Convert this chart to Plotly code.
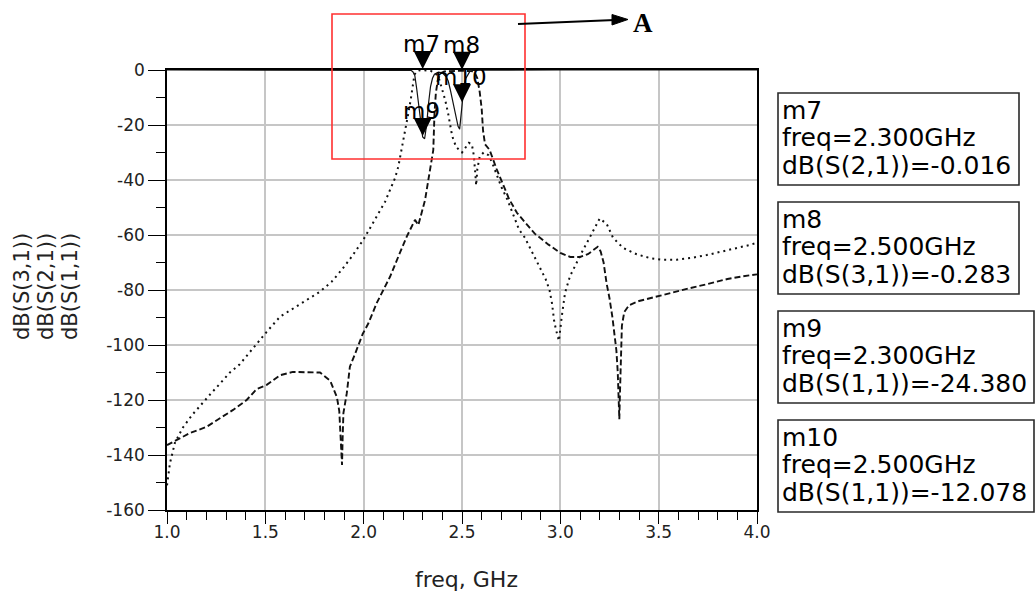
import plotly.graph_objects as go

# ---------------- data ----------------
# dB(S(2,1)) (dotted)
s21_freq = [1.000, 1.004, 1.015, 1.040, 1.081, 1.127, 1.168, 1.219, 1.270, 1.320, 1.370,
            1.430, 1.507, 1.575, 1.642, 1.710, 1.778, 1.837, 1.888, 1.939, 1.998,
            2.041, 2.074, 2.109, 2.134, 2.159, 2.176, 2.188, 2.202, 2.215, 2.227,
            2.239, 2.249, 2.258, 2.268, 2.280, 2.300, 2.320, 2.340, 2.355, 2.370,
            2.385, 2.400, 2.415, 2.430, 2.450, 2.470, 2.500, 2.520, 2.535, 2.550,
            2.560, 2.568, 2.572, 2.578, 2.590, 2.610, 2.635, 2.655, 2.675, 2.700,
            2.730, 2.760, 2.790, 2.820, 2.850, 2.890, 2.925, 2.945, 2.958, 2.968,
            2.978, 2.993, 3.007, 3.024, 3.049, 3.083, 3.115, 3.151, 3.176, 3.200,
            3.236, 3.268, 3.319, 3.388, 3.456, 3.522, 3.592, 3.660, 3.744, 3.827,
            3.897, 3.964, 4.000]
s21_db = [-151.0, -149.0, -143.0, -135.6, -130.0, -125.5, -122.0, -118.0, -114.0, -110.0, -107.0,
          -101.8, -95.2, -89.7, -86.7, -83.6, -80.6, -77.0, -72.7, -67.9, -61.8,
          -56.4, -52.1, -47.9, -43.6, -39.4, -35.2, -30.9, -25.5, -20.6, -15.8,
          -10.9, -6.1, -1.8, -0.5, -0.15, -0.016, -0.08, -0.3, -0.8, -1.6,
          -3.6, -7.0, -11.0, -16.0, -24.0, -28.0, -30.0, -28.0, -26.5, -27.0,
          -31.0, -38.0, -42.0, -36.0, -31.5, -30.0, -31.0, -34.0, -38.0, -42.5,
          -47.0, -52.7, -58.0, -61.0, -65.5, -71.0, -76.0, -80.0, -85.0, -91.0,
          -94.5, -98.5, -89.8, -81.0, -75.0, -70.0, -65.5, -60.7, -57.0, -54.0,
          -56.0, -61.0, -64.7, -67.0, -68.4, -69.0, -69.0, -68.4, -67.3, -66.0,
          -64.7, -63.6, -62.8]

# dB(S(3,1)) (dashed)
s31_freq = [1.000, 1.049, 1.117, 1.200, 1.270, 1.336, 1.405, 1.456, 1.507, 1.575,
            1.640, 1.710, 1.778, 1.830, 1.864, 1.876, 1.884, 1.890, 1.893, 1.897,
            1.914, 1.930, 1.964, 1.995, 2.024, 2.066, 2.100, 2.134, 2.176, 2.219,
            2.261, 2.278, 2.312, 2.329, 2.346, 2.354, 2.360, 2.367, 2.376, 2.390,
            2.410, 2.450, 2.500, 2.550, 2.565, 2.578, 2.590, 2.600, 2.607, 2.617,
            2.640, 2.676, 2.700, 2.740, 2.780, 2.820, 2.870, 2.940, 3.000, 3.050,
            3.100, 3.140, 3.170, 3.190, 3.205, 3.220, 3.235, 3.250, 3.265, 3.275,
            3.285, 3.292, 3.297, 3.300, 3.303, 3.307, 3.313, 3.325, 3.350, 3.400,
            3.480, 3.570, 3.660, 3.750, 3.850, 3.930, 4.000]
s31_db = [-136.4, -134.5, -132.0, -129.8, -126.5, -123.6, -120.0, -116.0, -114.5, -111.0,
          -109.8, -109.8, -110.0, -113.0, -119.0, -124.0, -134.0, -143.6, -134.0, -124.8,
          -117.6, -107.9, -101.8, -96.0, -92.1, -84.8, -80.0, -75.2, -67.9, -60.6,
          -54.5, -56.4, -47.3, -40.0, -33.9, -29.1, -16.0, -8.5, -4.0, -1.2,
          -0.5, -0.3, -0.283, -0.4, -1.0, -3.0, -8.0, -14.0, -22.0, -27.0,
          -29.0, -36.0, -40.0, -47.0, -52.0, -55.5, -59.5, -63.5, -66.5, -68.0,
          -68.0, -67.0, -65.5, -64.3, -66.0, -70.0, -77.5, -83.0, -90.0, -96.0,
          -102.0, -110.0, -120.0, -127.0, -118.0, -104.0, -93.0, -88.0, -85.5, -84.0,
          -82.5, -81.0, -79.3, -77.8, -76.0, -75.0, -74.3]

# dB(S(1,1)) (solid)
s11_freq = [1.000, 1.500, 2.000, 2.200, 2.240, 2.250, 2.260, 2.270, 2.280, 2.290,
            2.300, 2.310, 2.320, 2.330, 2.340, 2.350, 2.360, 2.380, 2.400, 2.420,
            2.430, 2.440, 2.455, 2.470, 2.480, 2.488, 2.495, 2.500, 2.510, 2.520,
            2.530, 2.540, 2.560, 2.600, 3.000, 4.000]
s11_db = [0.0, -0.001, -0.003, -0.02, -0.1, -0.6, -2.0, -7.0, -13.0, -18.0,
          -24.38, -25.0, -20.0, -12.0, -6.0, -3.0, -1.5, -0.8, -1.0, -2.5,
          -4.0, -7.0, -12.0, -17.0, -20.5, -21.5, -17.0, -12.078, -6.0, -3.0,
          -1.5, -0.5, -0.1, -0.02, 0.0, 0.0]

# markers
marker_names = ["m7", "m8", "m9", "m10"]
marker_freq = [2.3, 2.5, 2.3, 2.5]
marker_db = [-0.016, -0.283, -24.380, -12.078]
marker_param = ["dB(S(2,1))", "dB(S(3,1))", "dB(S(1,1))", "dB(S(1,1))"]

# ticks / titles
xtick_vals = [1.0, 1.5, 2.0, 2.5, 3.0, 3.5, 4.0]
xtick_text = ["1.0", "1.5", "2.0", "2.5", "3.0", "3.5", "4.0"]
ytick_vals = [0, -20, -40, -60, -80, -100, -120, -140, -160]
ytick_text = ["0", "-20", "-40", "-60", "-80", "-100", "-120", "-140", "-160"]
y_titles = ["dB(S(3,1))", "dB(S(2,1))", "dB(S(1,1))"]
x_title = "freq, GHz"

# ---------------- layout helpers ----------------
W, H = 1036, 595
ML, MR, MT, MB = 167, 279, 70, 85
PW, PH = W - ML - MR, H - MT - MB


def px(x):
    return (x - ML) / PW


def py(y):
    return (H - MB - y) / PH


FONT = "DejaVu Sans"
INK = "#111111"

fig = go.Figure()

fig.add_trace(go.Scatter(x=s11_freq, y=s11_db, mode="lines", name="dB(S(1,1))",
                         line=dict(color=INK, width=1.2), showlegend=False))
fig.add_trace(go.Scatter(x=s31_freq, y=s31_db, mode="lines", name="dB(S(3,1))",
                         line=dict(color=INK, width=1.9, dash="6px,3px"), showlegend=False))
fig.add_trace(go.Scatter(x=s21_freq, y=s21_db, mode="lines", name="dB(S(2,1))",
                         line=dict(color=INK, width=2.0, dash="2px,4px"), showlegend=False))

annotations = []
shapes = []

# marker triangles and labels
for name, f, d in zip(marker_names, marker_freq, marker_db):
    annotations.append(dict(x=f, y=d, xref="x", yref="y", text="", showarrow=True,
                            ax=0, ay=-14, arrowhead=2, arrowsize=3.6, arrowwidth=1,
                            arrowcolor="#000000", standoff=1))
    annotations.append(dict(x=f, y=d, xref="x", yref="y", text=name, showarrow=False,
                            xanchor="center", yanchor="middle", yshift=26, xshift=-1,
                            font=dict(family=FONT, size=23, color="#000000")))

# marker readout boxes
box_tops = [93, 202, 311, 420]
box_rights = [1019, 1019, 1034, 1034]
for i, (name, f, d, p) in enumerate(zip(marker_names, marker_freq, marker_db, marker_param)):
    top = box_tops[i]
    shapes.append(dict(type="rect", xref="paper", yref="paper",
                       x0=px(778), x1=px(box_rights[i]), y0=py(top + 92), y1=py(top),
                       line=dict(color="#2a2a2a", width=1.6), fillcolor="rgba(0,0,0,0)"))
    lines = [name, "freq=%.3fGHz" % f, "%s=%.3f" % (p, d)]
    for j, t in enumerate(lines):
        annotations.append(dict(x=px(780), y=py(top + 26 + j * 27.5 - 9), xref="paper", yref="paper",
                                text=t, showarrow=False, xanchor="left", yanchor="middle",
                                font=dict(family=FONT, size=25, color="#000000")))

# y axis title (three rotated lines)
for xp, t in zip([22, 46, 70], y_titles):
    annotations.append(dict(x=px(xp), y=py(287), xref="paper", yref="paper", text=t,
                            textangle=-90, showarrow=False, xanchor="center", yanchor="middle",
                            font=dict(family=FONT, size=21, color="#222222")))
# x axis title
annotations.append(dict(x=px(466), y=py(579), xref="paper", yref="paper", text=x_title,
                        showarrow=False, xanchor="center", yanchor="middle",
                        font=dict(family=FONT, size=22, color="#222222")))

# red highlight box, arrow and "A"
shapes.append(dict(type="rect", xref="paper", yref="paper", x0=px(332), x1=px(525),
                   y0=py(159), y1=py(14), line=dict(color="#ff3030", width=1.6),
                   fillcolor="rgba(0,0,0,0)"))
shapes.append(dict(type="line", xref="paper", yref="paper", x0=px(518), y0=py(24),
                   x1=px(615), y1=py(20), line=dict(color="#000000", width=2)))
shapes.append(dict(type="path", xref="paper", yref="paper",
                   path="M %f,%f L %f,%f L %f,%f Z" % (px(612), py(14.5), px(628), py(19.5), px(612), py(25)),
                   fillcolor="#000000", line=dict(color="#000000", width=1)))
annotations.append(dict(x=px(643), y=py(23), xref="paper", yref="paper", text="<b>A</b>",
                        showarrow=False, xanchor="center", yanchor="middle",
                        font=dict(family="Liberation Serif", size=27, color="#000000")))

fig.update_layout(
    width=W, height=H,
    margin=dict(l=ML, r=MR, t=MT, b=MB, pad=0),
    paper_bgcolor="white", plot_bgcolor="white",
    showlegend=False,
    annotations=annotations, shapes=shapes,
    xaxis=dict(range=[1.0, 4.0], tickvals=xtick_vals, ticktext=xtick_text,
               showgrid=True, gridcolor="#c6c6c6", gridwidth=1.6,
               showline=True, linecolor="#000000", linewidth=1.6, mirror=True,
               ticks="outside", ticklen=12, tickwidth=1.4, tickcolor="#000000",
               minor=dict(dtick=0.1, ticks="outside", ticklen=8, tickwidth=1.2,
                          tickcolor="#000000", showgrid=False),
               tickfont=dict(family=FONT, size=17, color="#222222"),
               ticklabelstandoff=-6,
               zeroline=False, automargin=False, fixedrange=True),
    yaxis=dict(range=[-160, 0], tickvals=ytick_vals, ticktext=ytick_text,
               showgrid=True, gridcolor="#c6c6c6", gridwidth=1.6,
               showline=True, linecolor="#000000", linewidth=1.6, mirror=True,
               ticks="outside", ticklen=17, tickwidth=1.4, tickcolor="#000000",
               minor=dict(dtick=10, ticks="outside", ticklen=9, tickwidth=1.2,
                          tickcolor="#000000", showgrid=False),
               tickfont=dict(family=FONT, size=17, color="#222222"),
               zeroline=False, automargin=False, fixedrange=True),
)

fig.write_html("out.html")
